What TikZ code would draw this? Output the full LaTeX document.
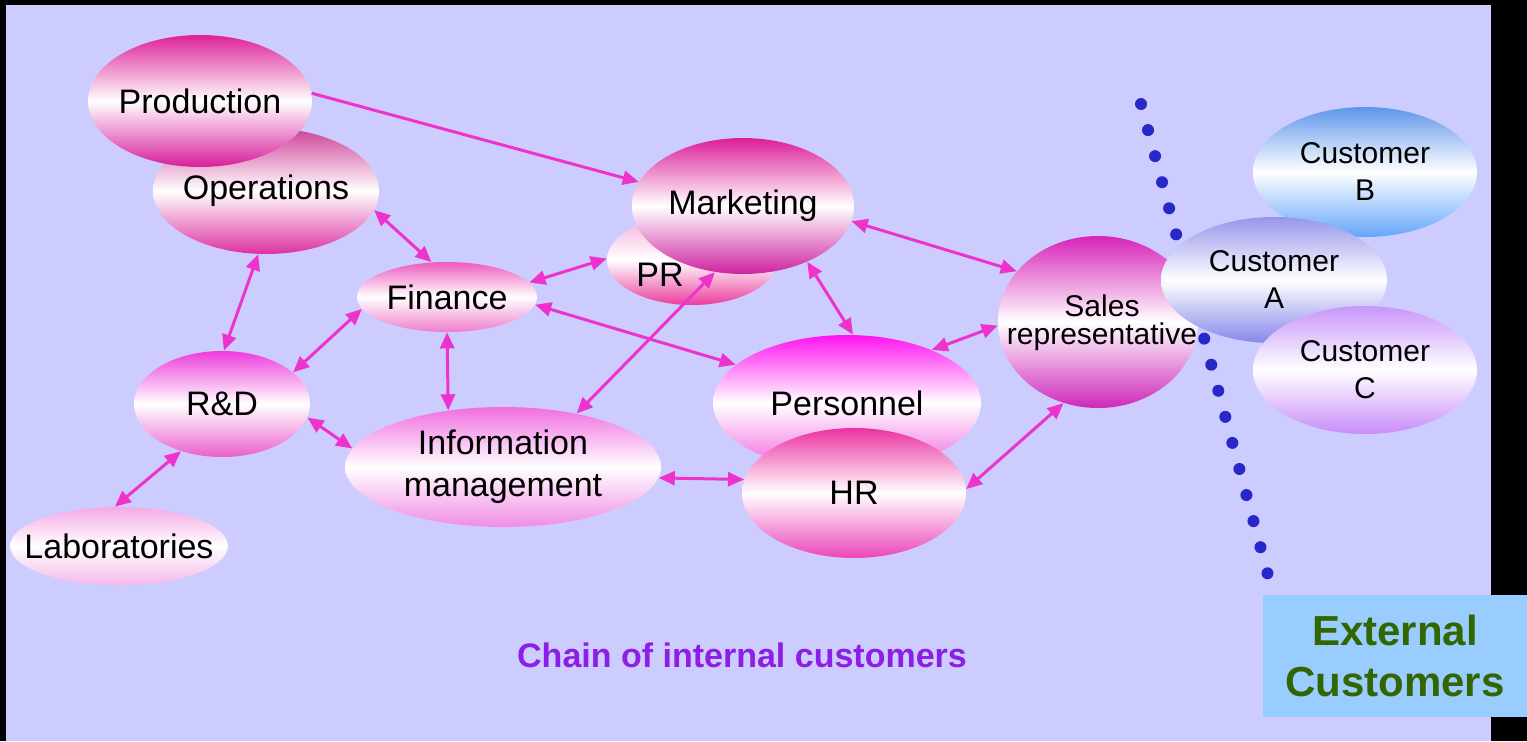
\documentclass[tikz,border=0pt]{standalone}
\usepackage{fontspec}
\setmainfont{Liberation Sans}
\usetikzlibrary{shapes.geometric}
\usetikzlibrary{arrows.meta}

\definecolor{lavender}{RGB}{204,204,255}
\definecolor{linkpink}{RGB}{238,51,204}
\definecolor{dotblue}{RGB}{40,40,200}
\definecolor{boxblue}{RGB}{153,204,255}
\definecolor{boxgreen}{RGB}{51,102,0}
\definecolor{chainviolet}{RGB}{140,30,230}
% ellipse shading colours, top / bottom
\definecolor{prodTop}{RGB}{221,34,150}   \definecolor{prodBot}{RGB}{215,30,155}
\definecolor{opsTop}{RGB}{205,65,150}    \definecolor{opsBot}{RGB}{220,50,160}
\definecolor{mktTop}{RGB}{220,30,150}    \definecolor{mktBot}{RGB}{205,35,160}
\definecolor{prTop}{RGB}{245,170,215}    \definecolor{prBot}{RGB}{235,60,155}
\definecolor{finTop}{RGB}{238,90,190}    \definecolor{finBot}{RGB}{240,125,205}
\definecolor{rdTop}{RGB}{238,60,220}     \definecolor{rdBot}{RGB}{235,95,205}
\definecolor{labTop}{RGB}{245,170,230}   \definecolor{labBot}{RGB}{245,185,232}
\definecolor{infoTop}{RGB}{240,110,225}  \definecolor{infoBot}{RGB}{240,140,228}
\definecolor{persTop}{RGB}{255,20,240}   \definecolor{persBot}{RGB}{240,100,222}
\definecolor{hrTop}{RGB}{235,50,160}     \definecolor{hrBot}{RGB}{235,70,185}
\definecolor{salesTop}{RGB}{215,35,185}  \definecolor{salesBot}{RGB}{205,40,185}
\definecolor{custBTop}{RGB}{95,150,235}  \definecolor{custBBot}{RGB}{100,165,250}
\definecolor{custATop}{RGB}{150,150,235} \definecolor{custABot}{RGB}{135,135,235}
\definecolor{custCTop}{RGB}{200,150,250} \definecolor{custCBot}{RGB}{200,140,250}

\tikzset{
  blob/.style={ellipse, inner xsep=-12pt, inner ysep=-4pt, align=center,
    text=black, font=\fontsize{17}{21}\selectfont},
  cust/.style={font=\fontsize{15}{18.5}\selectfont},
  link/.style={draw=linkpink, line width=1.5pt},
  sepline/.style={dotblue, line width=6pt, line cap=round,
    dash pattern=on 0pt off 13.5pt},
  extbox/.style={fill=boxblue, text=boxgreen, align=center, inner sep=0pt,
    minimum width=132pt, minimum height=61pt,
    font=\bfseries\fontsize{21}{25.5}\selectfont},
}
% #1 options, #2 name, #3 centre, #4 width, #5 height, #6 top, #7 bottom, #8 text
\newcommand{\blob}[8][]{\node[blob, #1, minimum width=#4, minimum height=#5,
  top color=#6, bottom color=#7, middle color=white] (#2) at (#3) {#8};}

\begin{document}
\begin{tikzpicture}[x=0.5pt, y=-0.5pt, >={Triangle[length=8pt,width=7pt]}]
    \useasboundingbox (0,0) rectangle (1527,741);
    % frame
    \fill[black] (0,0) rectangle (1527,741);
    \fill[lavender] (6,5) rectangle (1491,741);
    % boundary
    \coordinate (sepTop) at (1141,104);
    \coordinate (sepBot) at (1272,590);
    \draw[sepline] (sepTop) -- (sepBot);
    % left group
    \blob{ops}{266,191}{113pt}{63pt}{opsTop}{opsBot}{Operations}
    \blob{prod}{200,101}{112pt}{66pt}{prodTop}{prodBot}{Production}
    \blob{fin}{447,297}{90pt}{35pt}{finTop}{finBot}{Finance}
    \blob{rd}{222,404}{88pt}{53pt}{rdTop}{rdBot}{R\&D}
    \blob{labs}{119,546}{109pt}{39pt}{labTop}{labBot}{Laboratories}
    \blob{info}{503,467}{158pt}{60pt}{infoTop}{infoBot}{Information\\management}
    % middle group
    \blob{pr}{692,260}{85pt}{45pt}{prTop}{prBot}{}
    \node[blob] (prTxt) at (660,275) {PR};
    \blob{mkt}{743,206}{111pt}{68pt}{mktTop}{mktBot}{Marketing}
    \blob{pers}{847,403}{134pt}{68pt}{persTop}{persBot}{Personnel}
    \blob{hr}{854,493}{112pt}{65pt}{hrTop}{hrBot}{HR}
    \blob{sales}{1098,322}{100pt}{86pt}{salesTop}{salesBot}{}
    % customers
    \blob[cust]{custB}{1365,172}{112pt}{65pt}{custBTop}{custBBot}{Customer\\B}
    \blob[cust]{custA}{1274,280}{113pt}{63pt}{custATop}{custABot}{Customer\\A}
    \blob[cust]{custC}{1365,370}{112pt}{64pt}{custCTop}{custCBot}{Customer\\C}
    \node[blob, font=\fontsize{15}{14}\selectfont] (salesTxt) at (1102,323) {Sales\\representative};
    % links
    \draw[link, ->] (prod.4) -- (mkt.167);
    \draw[link, <->] (ops.-10) -- (fin.114);
    \draw[link, <->] (ops.263) -- (rd.88);
    \draw[link, <->] (fin.188) -- (rd.24);
    \draw[link, <->] (fin.10) -- (pr.179);
    \draw[link, <->] (fin.-5) -- (pers.161);
    \draw[link, <->] (fin.270) -- (info.134);
    \draw[link, <->] (mkt.247) -- (info.36);
    \draw[link, <->] (mkt.-41) -- (pers.85);
    \draw[link, <->] (mkt.-8) -- (sales.148);
    \draw[link, <->] (sales.182) -- (pers.32);
    \draw[link, <->] (sales.247) -- (hr.2);
    \draw[link, <->] (info.-4) -- (hr.173);
    \draw[link, <->] (rd.-9) -- (info.173);
    \draw[link, <->] (rd.229) -- (labs.96);
    % captions
    \node[font=\bfseries\fontsize{17}{20}\selectfont, text=chainviolet] (chain) at (742,655) {Chain of internal customers};
    \node[extbox] (ext) at (1395,656) {External\\Customers};
\end{tikzpicture}
\end{document}
